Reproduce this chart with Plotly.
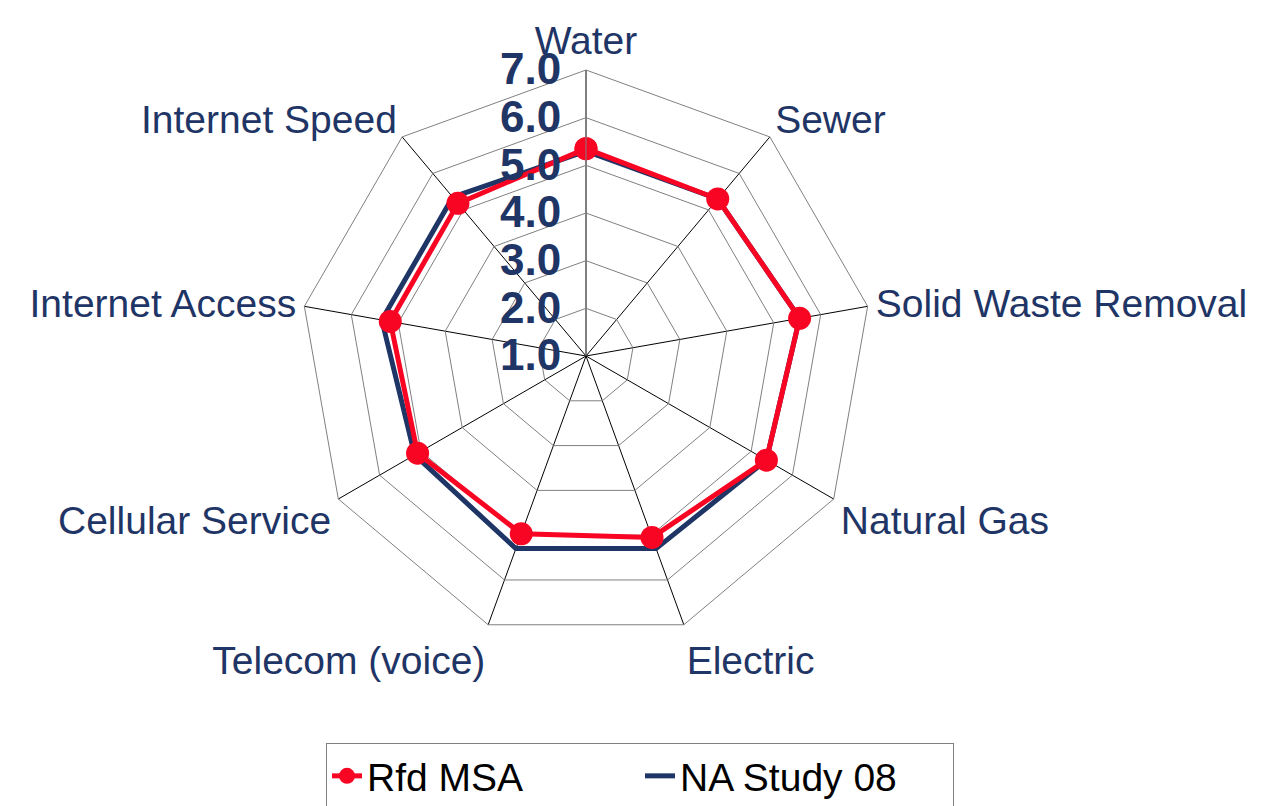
import plotly.graph_objects as go

categories = ["Water", "Sewer", "Solid Waste Removal", "Natural Gas", "Electric",
              "Telecom (voice)", "Cellular Service", "Internet Access", "Internet Speed"]
rfd_msa = [5.35, 5.3, 5.55, 5.37, 5.05, 4.97, 5.08, 5.17, 5.18]
na_study_08 = [5.3, 5.3, 5.55, 5.37, 5.3, 5.3, 5.15, 5.35, 5.35]
radial_ticks = [1, 2, 3, 4, 5, 6, 7]

NAVY = "#1F3566"
RED = "#F80524"

def closed(v):
    return list(v) + [v[0]]

fig = go.Figure()
fig.add_trace(go.Scatterpolar(
    r=closed(na_study_08), theta=closed(categories), name="NA Study 08",
    mode="lines", line=dict(color=NAVY, width=5), legendrank=2))
fig.add_trace(go.Scatterpolar(
    r=closed(rfd_msa), theta=closed(categories), name="Rfd MSA",
    mode="lines+markers", line=dict(color=RED, width=5),
    marker=dict(color=RED, size=23), legendrank=1))

W, H = 1264, 806
cx, cy, R = 578, 348, 286
fig.update_layout(
    width=W, height=H,
    margin=dict(l=0, r=0, t=0, b=0),
    paper_bgcolor="white", plot_bgcolor="white",
    font=dict(family="Liberation Sans, Arial, sans-serif", color=NAVY),
    polar=dict(
        domain=dict(x=[(cx - R) / W, (cx + R) / W], y=[1 - (cy + R) / H, 1 - (cy - R) / H]),
        gridshape="linear",
        bgcolor="white",
        angularaxis=dict(
            direction="clockwise", rotation=90, categoryorder="array", categoryarray=categories,
            showline=True, linecolor="#808080", linewidth=1,
            gridcolor="#000000", gridwidth=1, ticks="",
            tickfont=dict(size=39, color=NAVY)),
        radialaxis=dict(
            range=[1, 7], tickvals=radial_ticks, tickformat=".1f", angle=90,
            side="counterclockwise", showline=True, linecolor="#808080", linewidth=1,
            gridcolor="#808080", gridwidth=1,
            ticks="outside", ticklen=9, tickcolor="rgba(0,0,0,0)",
            tickangle=90,
            tickfont=dict(size=44, color=NAVY, weight="bold")),
    ),
    showlegend=True,
    legend=dict(
        orientation="h", x=0.5, xanchor="center", y=1 - 735 / H, yanchor="top",
        bordercolor="#808080", borderwidth=1, bgcolor="white",
        entrywidth=268, entrywidthmode="pixels",
        font=dict(size=39, color="black")),
)

fig.write_html("out.html")
